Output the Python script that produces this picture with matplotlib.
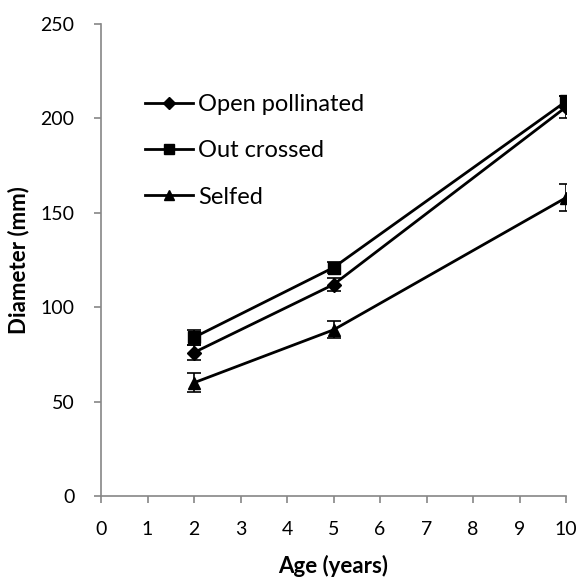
import matplotlib
matplotlib.use("Agg")
import matplotlib.pyplot as plt
from matplotlib.lines import Line2D

plt.rcParams['font.family'] = ['Lato', 'DejaVu Sans']

ages = [2, 5, 10]
open_pollinated = [76, 112, 206]
open_err = [4, 3.5, 6]
out_crossed = [84, 121, 209]
out_err = [4, 3, 3]
selfed = [60, 88, 158]
selfed_err = [5, 4.5, 7]

x_ticks = list(range(0, 11))
y_ticks = [0, 50, 100, 150, 200, 250]

W, H = 577, 582
fig = plt.figure(figsize=(W / 100, H / 100), dpi=100)
ax = fig.add_axes([101 / W, (H - 496) / H, 465 / W, 472 / H])

series = [
    ("Open pollinated", open_pollinated, open_err, "D", 7),
    ("Out crossed", out_crossed, out_err, "s", 8.5),
    ("Selfed", selfed, selfed_err, "^", 9),
]
handles = []
for label, vals, err, m, ms in series:
    ax.errorbar(ages, vals, yerr=err, color="black", lw=2, marker=m, ms=ms,
                capsize=5, elinewidth=1.2, capthick=1.2)
    handles.append(Line2D([], [], color="black", lw=2, marker=m, ms=ms * 0.85,
                          label=label))

ax.set_xlim(0, 10)
ax.set_ylim(0, 250)
ax.set_xticks(x_ticks)
ax.set_yticks(y_ticks)
ax.tick_params(labelsize=14, direction="out", length=5, color="#868686", width=1.2)
ax.tick_params(axis="x", pad=13)
ax.tick_params(axis="y", pad=14)
for s in ["top", "right"]:
    ax.spines[s].set_visible(False)
for s in ["left", "bottom"]:
    ax.spines[s].set_color("#868686")
    ax.spines[s].set_linewidth(1.2)
ax.set_xlabel("Age (years)", fontsize=16, fontweight="bold", labelpad=12)
ax.set_ylabel("Diameter (mm)", fontsize=16, fontweight="bold", labelpad=8)

leg = fig.legend(handles=handles, loc="upper left",
                 bbox_to_anchor=(145 / W, (H - 94) / H), borderpad=0, borderaxespad=0,
                 frameon=False, fontsize=17, handlelength=2.05, handletextpad=0.2,
                 labelspacing=1.07)

fig.savefig("out.png", dpi=100)
